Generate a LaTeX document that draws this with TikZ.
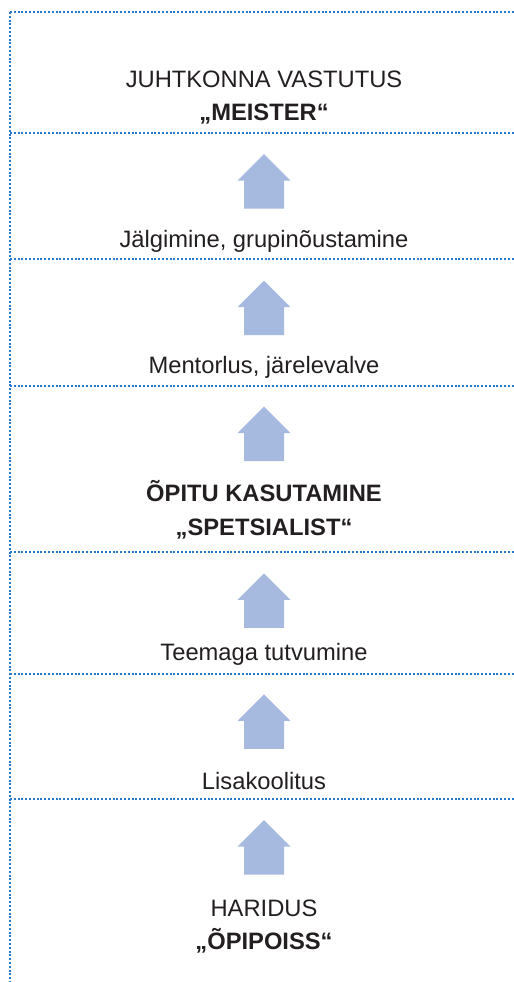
\documentclass[tikz,border=0pt]{standalone}
\usepackage{fontspec}
\setmainfont{Liberation Sans}

\definecolor{dotblue}{RGB}{38,120,204}
\definecolor{arrowblue}{RGB}{166,186,224}
\definecolor{textgray}{RGB}{35,31,32}

\begin{document}
\begin{tikzpicture}[x=0.75pt, y=-0.75pt,
  every node/.style={text=textgray, font=\fontsize{17.8}{24}\selectfont, anchor=base, inner sep=0pt},
  sepline/.style={draw=dotblue, line width=1.6pt, dash pattern=on 1.5pt off 1.35pt},
  levelarrow/.style={fill=arrowblue}]

\useasboundingbox (0,0) rectangle (514,982);

% Dotted separators between levels
\foreach \y in {12,133,259,386,552,674,799}
  \draw[sepline] (10,\y) -- (514,\y);
\draw[sepline] (10,12) -- (10,982);

% Upward arrows
\foreach \t in {154,280.7,406.7,573.3,694.3,820}
  \fill[levelarrow] (264,\t) -- (290.5,\t+26.5) -- (284,\t+26.5) -- (284,\t+54.5)
    -- (244,\t+54.5) -- (244,\t+26.5) -- (237.5,\t+26.5) -- cycle;

% Level texts
\node (meister1) at (264,87) {JUHTKONNA VASTUTUS};
\node[font=\fontsize{17.8}{24}\selectfont\bfseries] (meister2) at (264,120) {„MEISTER“};
\node (jalgimine) at (264,247.5) {Jälgimine, grupinõustamine};
\node (mentorlus) at (264,373.3) {Mentorlus, järelevalve};
\node[font=\fontsize{17.8}{24}\selectfont\bfseries] (spets1) at (264,501.7) {ÕPITU KASUTAMINE};
\node[font=\fontsize{17.8}{24}\selectfont\bfseries] (spets2) at (264,535) {„SPETSIALIST“};
\node (teema) at (264,660.7) {Teemaga tutvumine};
\node (lisa) at (264,789.3) {Lisakoolitus};
\node (haridus1) at (264,916.5) {HARIDUS};
\node[font=\fontsize{17.8}{24}\selectfont\bfseries] (haridus2) at (264,949.5) {„ÕPIPOISS“};

\end{tikzpicture}
\end{document}
